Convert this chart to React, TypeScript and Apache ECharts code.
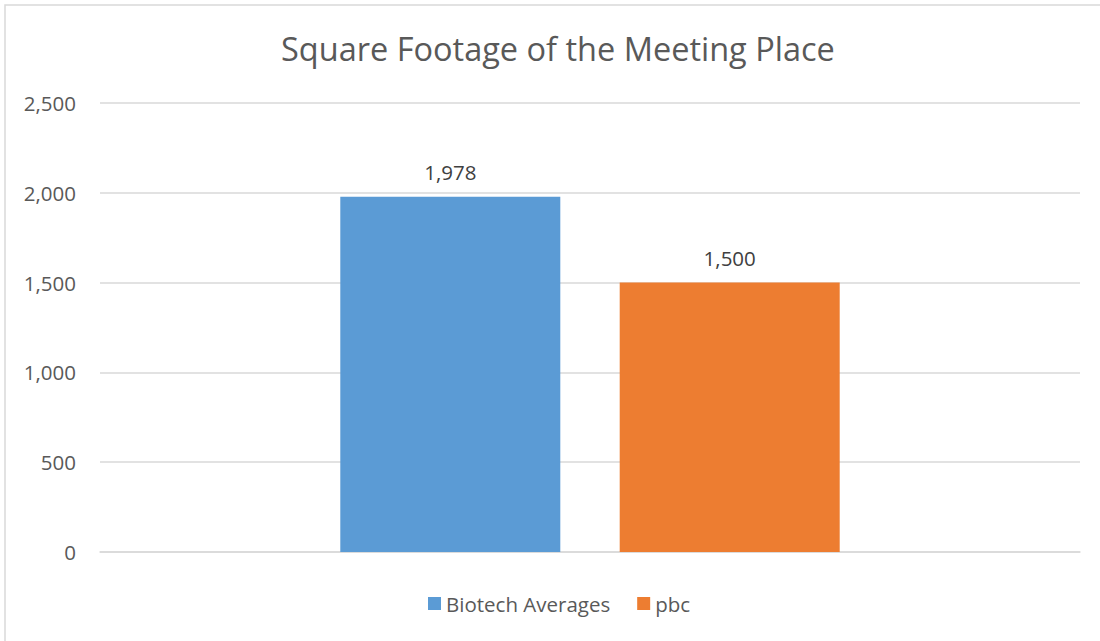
import React, { useEffect, useRef } from "react";
import * as echarts from "echarts";

const categories = ["Square Footage"];
const seriesNames = ["Biotech Averages", "pbc"];
const biotechValues = [1978];
const pbcValues = [1500];
const colors = ["#5B9BD5", "#ED7D31"];

export default function App() {
  const ref = useRef<HTMLDivElement>(null);
  useEffect(() => {
    if (!ref.current) return;
    const chart = echarts.init(ref.current, null, { renderer: "svg" });
    const font = "Open Sans";
    const fmt = (v: number) => Number(v).toLocaleString("en-US");
    chart.setOption({
      animation: false,
      backgroundColor: "#fff",
      textStyle: { fontFamily: font },
      title: {
        text: "Square Footage of the Meeting Place",
        left: 276,
        top: 27,
        textStyle: { fontSize: 32.5, fontWeight: "normal", color: "#595959", fontFamily: font },
      },
      graphic: [
        {
          type: "rect",
          shape: { x: 5, y: 5, width: 1200, height: 700 },
          style: { fill: "none", stroke: "#D9D9D9", lineWidth: 1.5 },
          silent: true,
        },
      ],
      legend: {
        bottom: 22,
        left: 423,
        itemWidth: 13,
        itemHeight: 13,
        itemGap: 27,
        icon: "rect",
        textStyle: { fontSize: 20.5, color: "#595959", fontFamily: font },
        data: seriesNames,
      },
      grid: { left: 100, right: 20, top: 103, bottom: 89, containLabel: false },
      xAxis: {
        type: "category",
        data: categories,
        axisLine: { lineStyle: { color: "#D9D9D9", width: 1.5 } },
        axisTick: { show: false },
        axisLabel: { show: false },
      },
      yAxis: {
        type: "value",
        min: 0,
        max: 2500,
        interval: 500,
        axisLine: { show: false },
        axisTick: { show: false },
        splitLine: { lineStyle: { color: "#D9D9D9", width: 1.5 } },
        axisLabel: {
          margin: 24,
          fontSize: 20.5,
          color: "#595959",
          fontFamily: font,
          formatter: fmt,
        },
      },
      series: [
        {
          name: seriesNames[0],
          type: "bar",
          data: biotechValues,
          barWidth: 220,
          barGap: "27%",
          itemStyle: { color: colors[0] },
          label: {
            show: true,
            position: "top",
            distance: 14,
            fontSize: 20.5,
            color: "#404040",
            fontFamily: font,
            formatter: (p: any) => fmt(p.value),
          },
        },
        {
          name: seriesNames[1],
          type: "bar",
          data: pbcValues,
          barWidth: 220,
          barGap: "27%",
          itemStyle: { color: colors[1] },
          label: {
            show: true,
            position: "top",
            distance: 14,
            fontSize: 20.5,
            color: "#404040",
            fontFamily: font,
            formatter: (p: any) => fmt(p.value),
          },
        },
      ],
    });
    return () => chart.dispose();
  }, []);
  return (
    <div
      ref={ref}
      style={{ position: "absolute", left: 0, top: 0, width: 1100, height: 641 }}
    />
  );
}
